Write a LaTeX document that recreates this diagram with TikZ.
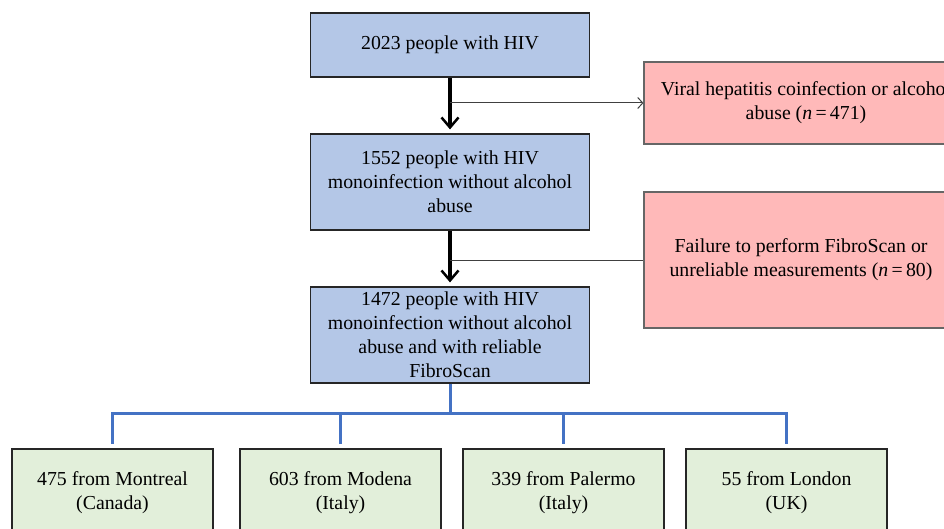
\documentclass[tikz,border=0pt]{standalone}
\usepackage{fontspec}
\setmainfont{Liberation Serif}
\usetikzlibrary{arrows.meta}
\definecolor{boxblue}{HTML}{B4C7E7}
\definecolor{boxred}{HTML}{FFB9B9}
\definecolor{boxgreen}{HTML}{E2EFDA}
\definecolor{treeblue}{HTML}{4472C4}
\begin{document}
\begin{tikzpicture}[x=1pt, y=-1pt,
    stage/.style={draw=black!85, line width=1.2pt, fill=boxblue, align=center, inner sep=0pt,
                  minimum width=279pt, minimum height=96pt},
    excl/.style={draw=black!60, line width=1.2pt, fill=boxred, align=center, inner sep=0pt},
    site/.style={draw=black!85, line width=1.2pt, fill=boxgreen, align=center, inner sep=0pt,
                 minimum width=201pt, minimum height=88pt},
    flow/.style={line width=3.5pt, -{Straight Barb[length=10pt, width=17pt, line width=2.5pt]}, shorten >=4pt},
    side/.style={line width=1pt, draw=black!75},
    tree/.style={line width=3pt, draw=treeblue},
    font=\fontsize{19.8}{24}\selectfont]
          \useasboundingbox (0,0) rectangle (944,529);
          \clip (0,0) rectangle (944,529);
          \node[stage, minimum height=64pt](0)  at (450,45)                    {2023 people with HIV};
          \node[stage](1)   [below of = 0, node distance = 137pt]  {1552 people with HIV\\monoinfection without alcohol\\abuse};
          \node[stage](2)   [below of = 1, node distance = 153pt]  {1472 people with HIV\\monoinfection without alcohol\\abuse and with reliable\\FibroScan};
          \node[excl, minimum width=324pt, minimum height=82pt](3)   at (806,103)  {Viral hepatitis coinfection or alcohol\\abuse (\textit{n}\,=\,471)};
          \node[excl, minimum width=314pt, minimum height=136pt](4)  at (801,260)  {Failure to perform FibroScan or\\unreliable measurements (\textit{n}\,=\,80)};
          \node[site](5)    at (112.5,493)                        {475 from Montreal\\(Canada)};
          \node[site](6)    [right of = 5, node distance = 228pt]  {603 from Modena\\(Italy)};
          \node[site](7)    [right of = 6, node distance = 223pt]  {339 from Palermo\\(Italy)};
          \node[site](8)    [right of = 7, node distance = 223pt]  {55 from London\\(UK)};
          \coordinate[below of = 2, node distance = 78pt] (t);
          \path
            (0) edge[flow] (1)
            (1) edge[flow] (2)
            (0 |- 3) edge[side, -{Straight Barb[length=5pt, width=11pt]}] (3)
            (1 |- 4) edge[side] (4)
            ;
          \draw[tree] (2) -- (t);
          \draw[tree, shorten >=4pt] (t) -| (5);
          \draw[tree, shorten >=4pt] (t) -| (6);
          \draw[tree, shorten >=4pt] (t) -| (7);
          \draw[tree, shorten >=4pt] (t) -| (8);
        \end{tikzpicture}
\end{document}
